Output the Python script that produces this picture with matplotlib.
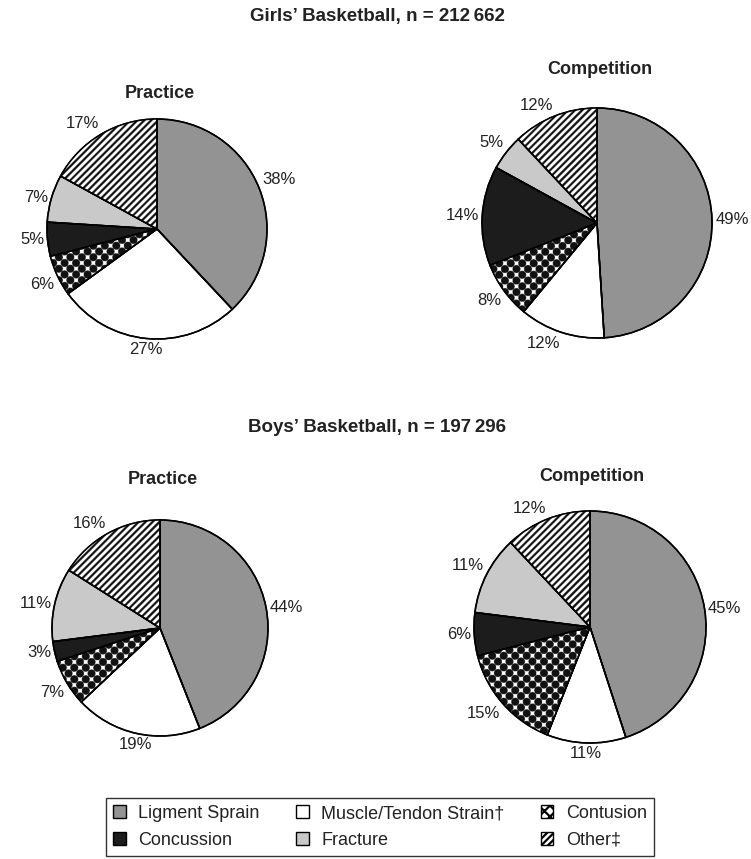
import numpy as np
import matplotlib
matplotlib.use("Agg")
import matplotlib.pyplot as plt
from matplotlib.patches import Patch

# ---------------- data ----------------
categories = ["Ligment Sprain", "Muscle/Tendon Strain†", "Contusion",
              "Concussion", "Fracture", "Other‡"]
girls_practice = [38, 27, 6, 5, 7, 17]
girls_competition = [49, 12, 8, 14, 5, 12]
boys_practice = [44, 19, 7, 3, 11, 16]
boys_competition = [45, 11, 15, 6, 11, 12]
group_titles = ["Girls’ Basketball, n = 212\u2009662",
                "Boys’ Basketball, n = 197\u2009296"]
panel_titles = ["Practice", "Competition"]

# ---------------- style ----------------
plt.rcParams["font.family"] = ["Liberation Sans", "DejaVu Sans"]
plt.rcParams["hatch.linewidth"] = 1.6
colors = ["#939393", "#ffffff", "#ffffff", "#1c1c1c", "#c9c9c9", "#ffffff"]
TXT = "#222222"

W, H = 751, 859
fig = plt.figure(figsize=(W / 100, H / 100), dpi=100)


def pattern_image(ax, wedge, kind, r):
    n = 800
    xs = np.linspace(-1.05, 1.05, n)
    X, Y = np.meshgrid(xs, xs)
    if kind == "dots":
        a = 11.5 / r
        fx = np.mod(X / a, 1.0)
        fy = np.mod(Y / a, 1.0)
        d = np.full_like(fx, 10.0)
        for px, py in [(0, 0), (1, 0), (0, 1), (1, 1), (0.5, 0.5)]:
            d = np.minimum(d, np.hypot(fx - px, fy - py))
        val = (d < 0.345).astype(float)
    else:  # diagonal stripes "/"
        p = 7.0 / r
        val = (np.mod((Y - X) / p, 1.0) < 0.45).astype(float)
    im = ax.imshow(val, cmap="gray_r", vmin=0, vmax=1.08,
                   extent=(-1.05, 1.05, -1.05, 1.05), origin="lower",
                   interpolation="antialiased", zorder=2)
    im.set_clip_path(wedge)


def add_pie(vals, cx, cy, r):
    lim = 1.45
    side = 2 * lim * r
    ax = fig.add_axes([(cx - side / 2) / W, 1 - (cy + side / 2) / H,
                       side / W, side / H])
    wedges, _ = ax.pie(vals, colors=colors, startangle=90, counterclock=False,
                       radius=1,
                       wedgeprops=dict(edgecolor="black", linewidth=1.1))
    pattern_image(ax, wedges[2], "dots", r)
    pattern_image(ax, wedges[5], "stripes", r)
    # edges on top
    ax.pie(vals, colors=["none"] * len(vals), startangle=90,
           counterclock=False, radius=1,
           wedgeprops=dict(edgecolor="black", linewidth=1.1, zorder=3))
    # labels
    for w, v in zip(wedges, vals):
        th = np.deg2rad((w.theta1 + w.theta2) / 2)
        c, s = np.cos(th), np.sin(th)
        d = 1.03
        ha = "left" if c > 0.3 else ("right" if c < -0.3 else "center")
        va = "bottom" if s > 0.3 else ("top" if s < -0.3 else "center")
        ax.text(d * c, d * s, f"{v}%", ha=ha, va=va, fontsize=12, color=TXT)
    ax.set_xlim(-lim, lim)
    ax.set_ylim(-lim, lim)
    ax.set_aspect("equal")
    ax.axis("off")
    return ax


add_pie(girls_practice, 157, 229, 110)
add_pie(girls_competition, 597, 223, 115)
add_pie(boys_practice, 160, 628, 108)
add_pie(boys_competition, 590, 627, 116)

# titles
tkw = dict(ha="center", va="center", fontsize=13.5, fontweight="bold", color=TXT)
fig.text(377 / W, 1 - 17 / H, group_titles[0], **tkw)
fig.text(377 / W, 1 - 428 / H, group_titles[1], **tkw)
pkw = dict(ha="center", va="center", fontsize=13, fontweight="bold", color=TXT)
fig.text(160 / W, 1 - 93 / H, panel_titles[0], **pkw)
fig.text(600 / W, 1 - 69 / H, panel_titles[1], **pkw)
fig.text(163 / W, 1 - 479 / H, panel_titles[0], **pkw)
fig.text(592 / W, 1 - 477 / H, panel_titles[1], **pkw)

# legend (row-major order in display)
legend_hatch = [None, None, "xxx", None, None, "/////"]
handles = [Patch(facecolor=c, edgecolor="black", linewidth=1.0, hatch=h)
           for c, h in zip(colors, legend_hatch)]
order = [0, 3, 1, 4, 2, 5]
leg = fig.legend([handles[i] for i in order], [categories[i] for i in order],
                 loc="center", bbox_to_anchor=(380 / W, 1 - 827 / H), ncol=3,
                 frameon=True, fancybox=False, edgecolor="black",
                 fontsize=13, handlelength=0.7, handleheight=0.7,
                 handletextpad=0.7, columnspacing=2.0, labelspacing=0.55,
                 borderpad=0.4)
leg.get_frame().set_linewidth(1.0)
for t in leg.get_texts():
    t.set_color(TXT)

fig.savefig("out.png", dpi=100, facecolor="white")
